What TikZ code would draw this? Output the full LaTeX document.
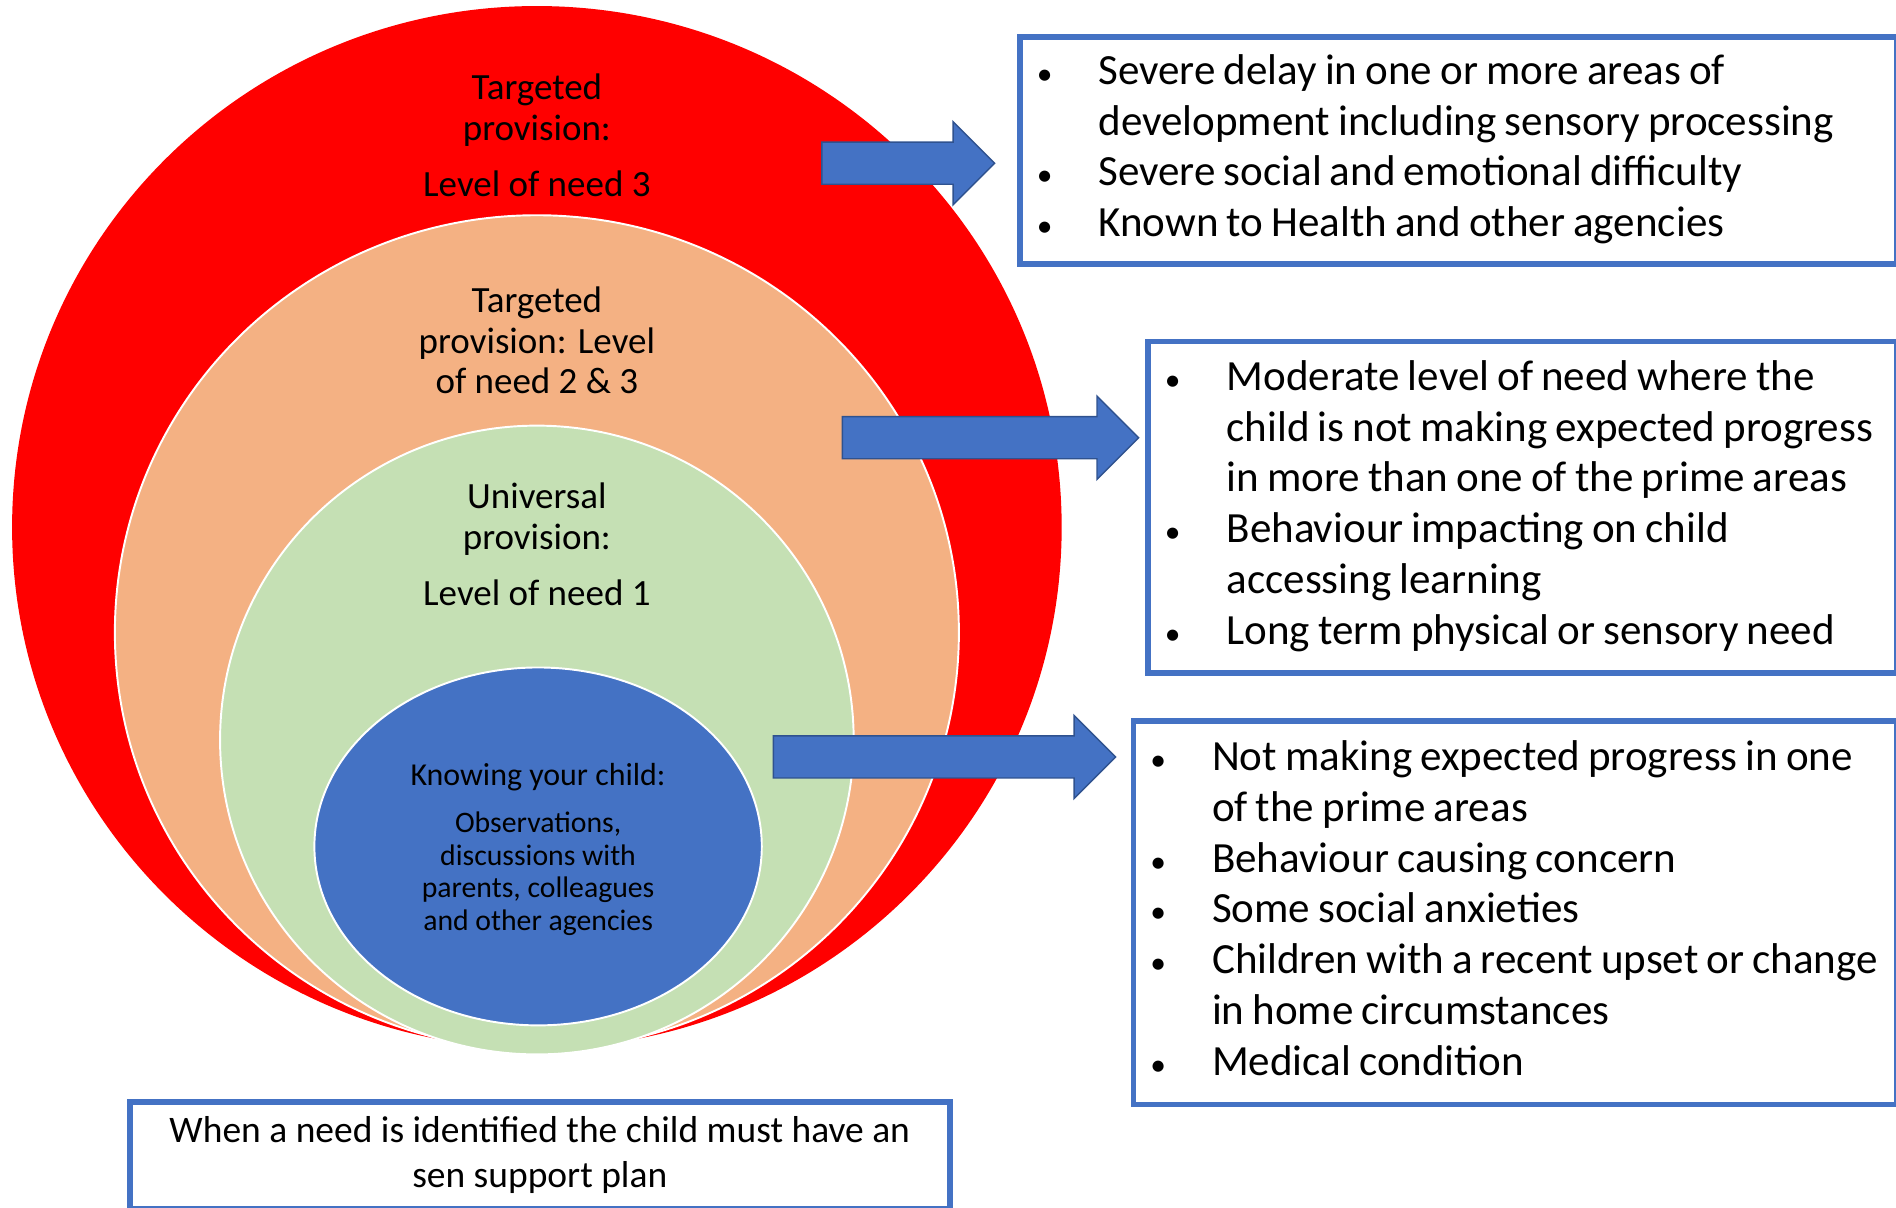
\documentclass[tikz,border=0pt]{standalone}
\usepackage{fontspec}
\setmainfont{Carlito}
\usepackage{tikz}
\usepackage{xcolor}
\usetikzlibrary{shapes.arrows}
\definecolor{level-red}{HTML}{FF0000}
\definecolor{level-peach}{HTML}{F4B183}
\definecolor{level-green}{HTML}{C5E0B4}
\definecolor{office-blue}{HTML}{4472C4}
\definecolor{arrow-edge}{HTML}{2F528F}
\tikzset{
    level-ring/.style = {draw=white, line width=0.8pt},
    level-label/.style = {align=center, inner sep=0pt, anchor=north, font=\fontsize{15.3}{16.75}\selectfont},
    need-arrow/.style = {single arrow, fill=office-blue, draw=arrow-edge, line width=0.6pt, inner sep=0pt, inner ysep=8.4pt, anchor=west, minimum width=34pt, single arrow head extend=8.5pt, single arrow tip angle=90},
    need-box/.style = {draw=office-blue, line width=2.4pt, fill=white, rectangle, anchor=north west, inner sep=0pt, inner xsep=7pt, align=left},
}
\newcommand{\needlist}[1]{\fontsize{17.8}{21}\selectfont\begin{tabular}{@{}p{25.5pt}@{}l@{}}#1\end{tabular}}
\newcommand{\needdot}{{\fontsize{13}{13}\selectfont\textbullet}}

\begin{document}
\begin{tikzpicture}[x=0.5pt, y=-0.5pt]
\useasboundingbox (0,0) rectangle (1568,999);
% nested levels of need
\fill[level-red] (444,436) ellipse [x radius=434, y radius=431];
\filldraw[level-ring, fill=level-peach] (444,523) ellipse [x radius=349, y radius=345];
\filldraw[level-ring, fill=level-green] (444,612) ellipse [x radius=262, y radius=260];
\filldraw[level-ring, fill=office-blue] (445,700) ellipse [x radius=185, y radius=148];

\node[level-label] (level3) at (444,61) {Targeted\\provision:\\[6.5pt]Level of need 3};
\node[level-label] (level2) at (444,237) {Targeted\\provision: Level\\of need 2 \& 3};
\node[level-label] (level1) at (444,399) {Universal\\provision:\\[6.5pt]Level of need 1};
\node[level-label, font=\fontsize{13.2}{15}\selectfont] (child) at (445,631) {Knowing your child:};
\node[level-label, font=\fontsize{12.3}{13.5}\selectfont] (child-notes) at (445,671) {Observations,\\discussions with\\parents, colleagues\\and other agencies};

% arrows out to the lists
\node[need-arrow, minimum height=71.5pt] (arrow3) at (679,135) {};
\node[need-arrow, minimum height=122.5pt] (arrow2) at (696,362) {};
\node[need-arrow, minimum height=141.5pt] (arrow1) at (639,626) {};

\node[need-box, minimum width=362.5pt, minimum height=94pt, text width=348.5pt] (needs3) at (841,28) {\needlist{
    \needdot & Severe delay in one or more areas of\\
    & development including sensory processing\\
    \needdot & Severe social and emotional difficulty\\
    \needdot & Known to Health and other agencies}};
\node[need-box, minimum width=309.5pt, minimum height=137pt, text width=295.5pt] (needs2) at (947,280) {\needlist{
    \needdot & Moderate level of need where the\\
    & child is not making expected progress\\
    & in more than one of the prime areas\\
    \needdot & Behaviour impacting on child\\
    & accessing learning\\
    \needdot & Long term physical or sensory need}};
\node[need-box, minimum width=315.5pt, minimum height=158.5pt, text width=301.5pt] (needs1) at (935,594) {\needlist{
    \needdot & Not making expected progress in one\\
    & of the prime areas\\
    \needdot & Behaviour causing concern\\
    \needdot & Some social anxieties\\
    \needdot & Children with a recent upset or change\\
    & in home circumstances\\
    \needdot & Medical condition}};

\node[need-box, minimum width=339pt, minimum height=44pt, inner xsep=0pt, align=center, font=\fontsize{15.5}{18.5}\selectfont] (plan) at (105,909) {When a need is identified the child must have an\\sen support plan\rule[-3pt]{0pt}{0pt}};
\end{tikzpicture}
\end{document}
